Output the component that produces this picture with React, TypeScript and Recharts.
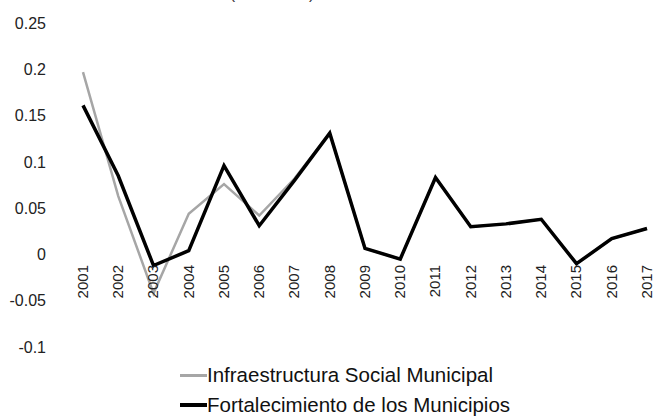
import React, { useLayoutEffect } from 'react';
import { LineChart, Line, XAxis, YAxis } from 'recharts';

const years = ['2001', '2002', '2003', '2004', '2005', '2006', '2007', '2008', '2009', '2010', '2011', '2012', '2013', '2014', '2015', '2016', '2017'];
const infraestructura = [0.197, 0.063, -0.042, 0.044, 0.076, 0.042, 0.082, 0.131, 0.0065, -0.005, 0.083, 0.03, 0.033, 0.038, -0.01, 0.017, 0.028];
const fortalecimiento = [0.161, 0.085, -0.012, 0.004, 0.096, 0.031, 0.08, 0.131, 0.0065, -0.005, 0.083, 0.03, 0.033, 0.038, -0.01, 0.017, 0.028];
const yTicks = [-0.1, -0.05, 0, 0.05, 0.1, 0.15, 0.2, 0.25];
const seriesNames = ['Infraestructura Social Municipal', 'Fortalecimiento de los Municipios'];
const seriesColors = ['#a6a6a6', '#000000'];
const seriesWidths = [2.5, 3.5];
const titleText = '(tasa anual)';

const data = years.map((y, i) => ({ year: y, infra: infraestructura[i], fort: fortalecimiento[i] }));

const FONT = '"Liberation Sans", Arial, sans-serif';

const XTick = (props: any) => {
  const { x, y, payload } = props;
  return (
    <g transform={`translate(${x},${y - 90})`}>
      <text transform="rotate(-90)" textAnchor="end" dy="0.33em" fontSize={15} fill="#222" fontFamily={FONT}>
        {payload.value}
      </text>
    </g>
  );
};

export default function App() {
  useLayoutEffect(() => {
    document.body.style.margin = '0';
  }, []);
  return (
    <div style={{ position: 'relative', width: 655, height: 416, overflow: 'hidden', fontFamily: FONT, background: '#fff' }}>
      <div style={{ position: 'absolute', top: -15, left: 222, width: 100, textAlign: 'center', fontSize: 16, color: '#333', lineHeight: '18px' }}>{titleText}</div>
      <LineChart width={655} height={416} data={data} margin={{ top: 23, right: 5, bottom: 39, left: 8 }}>
        <XAxis
          dataKey="year"
          scale="point"
          padding={{ left: 29, right: 3 }}
          axisLine={false}
          tickLine={false}
          interval={0}
          height={30}
          tick={<XTick />}
        />
        <YAxis
          domain={[-0.1, 0.25]}
          ticks={yTicks}
          width={46}
          axisLine={false}
          tickLine={false}
          tick={{ fontSize: 16, fill: '#222', fontFamily: FONT }}
          interval={0}
        />
        <Line type="linear" dataKey="infra" name={seriesNames[0]} stroke={seriesColors[0]} strokeWidth={seriesWidths[0]} dot={false} isAnimationActive={false} />
        <Line type="linear" dataKey="fort" name={seriesNames[1]} stroke={seriesColors[1]} strokeWidth={seriesWidths[1]} dot={false} isAnimationActive={false} />
      </LineChart>
      <div style={{ position: 'absolute', top: 360, left: 180, fontSize: 20.5, color: '#111', lineHeight: '30px' }}>
        {seriesNames.map((n, i) => (
          <div key={n} style={{ display: 'flex', alignItems: 'center', whiteSpace: 'nowrap', height: 30 }}>
            <span style={{ display: 'inline-block', width: 27, height: seriesWidths[i] + 0.5, background: seriesColors[i] }} />
            <span>{n}</span>
          </div>
        ))}
      </div>
    </div>
  );
}
